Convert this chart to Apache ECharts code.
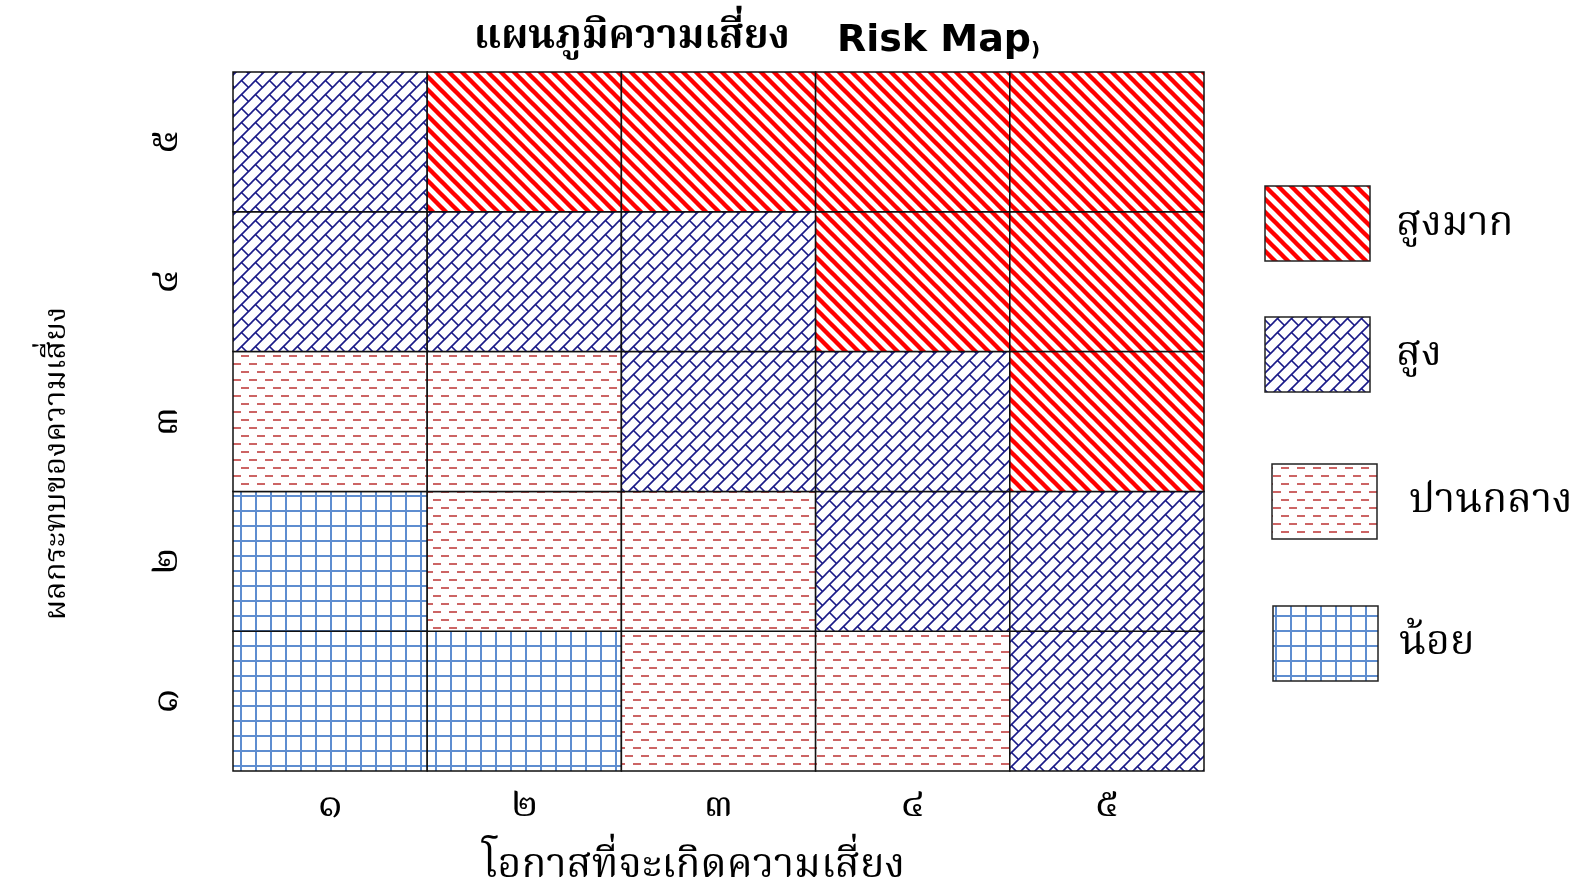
<!DOCTYPE html>
<html><head><meta charset="utf-8">
<script src="https://cdn.jsdelivr.net/npm/echarts@6/dist/echarts.min.js"></script>
<style>html,body{margin:0;padding:0;background:#fff}#c{width:1580px;height:883px}</style>
</head><body><div id="c"></div>
<script>
// ---- data ----
const xCats = ['๑', '๒', '๓', '๔', '๕'];
const yCats = ['๑', '๒', '๓', '๔', '๕'];
const levelNames = ['น้อย', 'ปานกลาง', 'สูง', 'สูงมาก'];
// rows from impact ๑ (bottom) to ๕ (top); values = level index into levelNames
const riskRow1 = [0, 0, 1, 1, 2];
const riskRow2 = [0, 1, 1, 2, 2];
const riskRow3 = [1, 1, 2, 2, 3];
const riskRow4 = [2, 2, 2, 3, 3];
const riskRow5 = [2, 3, 3, 3, 3];
const legendOrder = [3, 2, 1, 0];
const titleThai = 'แผนภูมิความเสี่ยง';
const titleEn = 'Risk Map';
const titleParen = ')';
const xName = 'โอกาสที่จะเกิดความเสี่ยง';
const yName = 'ผลกระทบของความเสี่ยง';

const THAI = "'Noto Serif Thai','Noto Sans Thai','Norasi','Loma','Garuda','DejaVu Serif','Liberation Serif',serif";

// ---- patterns ----
function mk(w, h, draw) {
  const c = document.createElement('canvas'); c.width = w; c.height = h;
  const g = c.getContext('2d'); g.fillStyle = '#fff'; g.fillRect(0, 0, w, h); draw(g, w, h);
  return { image: c, repeat: 'repeat' };
}
const patVeryHigh = mk(13, 13, (g, s) => {
  g.strokeStyle = '#ff0000'; g.lineWidth = 4.4; g.lineCap = 'square';
  for (let k = -1; k <= 1; k++) { g.beginPath(); g.moveTo(k * s - 2, -2); g.lineTo(k * s + s + 2, s + 2); g.stroke(); }
});
const patHigh = mk(14, 14, (g, s) => {
  g.strokeStyle = '#1a1a88'; g.lineWidth = 1.6;
  for (let k = 0; k <= 2; k++) { g.beginPath(); g.moveTo(k * s - s - 2, s + 2); g.lineTo(k * s + 2, -2); g.stroke(); }
  for (let tx = -1; tx <= 1; tx++) for (let ty = -1; ty <= 2; ty++) {
    const a = 3.5;
    g.beginPath(); g.moveTo(a + tx * s, -a + ty * s); g.lineTo(a + s / 2 + tx * s, -a + s / 2 + ty * s); g.stroke();
  }
});
const patMedium = mk(16, 16, (g) => {
  g.strokeStyle = '#cc6464'; g.lineWidth = 2;
  g.beginPath(); g.moveTo(1, 4); g.lineTo(9, 4); g.stroke();
  g.beginPath(); g.moveTo(9, 12); g.lineTo(17, 12); g.moveTo(-1, 12); g.lineTo(1, 12); g.stroke();
});
const patLow = mk(15, 15, (g, s) => {
  g.strokeStyle = '#5e8dd0'; g.lineWidth = 2;
  g.beginPath(); g.moveTo(1, 0); g.lineTo(1, s); g.moveTo(0, 1); g.lineTo(s, 1); g.stroke();
});
const patterns = [patLow, patMedium, patHigh, patVeryHigh];

// ---- build data ----
const rows = [riskRow1, riskRow2, riskRow3, riskRow4, riskRow5];
const cells = [];
rows.forEach((r, yi) => r.forEach((lv, xi) => cells.push([xi, yi, lv])));

const chart = echarts.init(document.getElementById('c'));

const legendBoxes = [
  { x: 1265, y: 186, w: 105, h: 75, tx: 1396, ty: 228 },
  { x: 1265, y: 317, w: 105, h: 75, tx: 1396, ty: 358 },
  { x: 1272, y: 464, w: 105, h: 75, tx: 1409, ty: 505 },
  { x: 1273, y: 606, w: 105, h: 75, tx: 1399, ty: 647 }
];
const graphics = [];
legendOrder.forEach((lv, i) => {
  const b = legendBoxes[i];
  graphics.push({ type: 'rect', shape: { x: b.x, y: b.y, width: b.w, height: b.h },
    style: { fill: patterns[lv], stroke: '#222', lineWidth: 1.5 } });
  graphics.push({ type: 'text', x: b.tx, y: b.ty,
    style: { text: levelNames[lv], font: '41px ' + THAI, fill: '#000', textVerticalAlign: 'middle' } });
});

chart.setOption({
  animation: false,
  title: {
    text: '{th|' + titleThai + '}{sp|     }{en|' + titleEn + '}{p|' + titleParen + '}',
    left: 752, top: 16, textAlign: 'center',
    textStyle: { rich: {
      th: { fontFamily: THAI, fontWeight: 'bold', fontSize: 40, color: '#000' },
      sp: { fontSize: 34 },
      en: { fontFamily: 'DejaVu Sans', fontWeight: 'bold', fontSize: 38, color: '#000' },
      p: { fontFamily: 'DejaVu Sans', fontWeight: 'bold', fontSize: 20, color: '#000', verticalAlign: 'bottom', padding: [10, 0, 0, 0] }
    } }
  },
  grid: { left: 233, right: 376, top: 72, bottom: 112, outerBoundsMode: 'none', containLabel: false },
  xAxis: {
    type: 'category', data: xCats,
    axisLine: { show: false }, axisTick: { show: false }, splitLine: { show: false },
    axisLabel: { fontFamily: THAI, fontSize: 40, color: '#000', margin: 18 },
    name: xName, nameLocation: 'middle', nameGap: 79,
    nameTextStyle: { fontFamily: THAI, fontSize: 41, color: '#000', padding: [0, 50, 0, 0] }
  },
  yAxis: {
    type: 'category', data: yCats,
    axisLine: { show: false }, axisTick: { show: false }, splitLine: { show: false },
    axisLabel: { fontFamily: THAI, fontSize: 40, color: '#000', rotate: 90, margin: 43 },
    name: yName, nameLocation: 'middle', nameGap: 158, nameRotate: 90,
    nameTextStyle: { fontFamily: THAI, fontSize: 31, color: '#000', padding: [0, 84, 0, 0] }
  },
  graphic: graphics,
  series: [{
    type: 'custom', data: cells,
    renderItem: function (params, api) {
      const c = api.coord([api.value(0), api.value(1)]);
      const sz = api.size([1, 1]);
      return { type: 'rect',
        shape: { x: c[0] - sz[0] / 2, y: c[1] - sz[1] / 2, width: sz[0], height: sz[1] },
        style: { fill: patterns[api.value(2)], stroke: '#111', lineWidth: 1.5 } };
    }
  }]
});
</script></body></html>
